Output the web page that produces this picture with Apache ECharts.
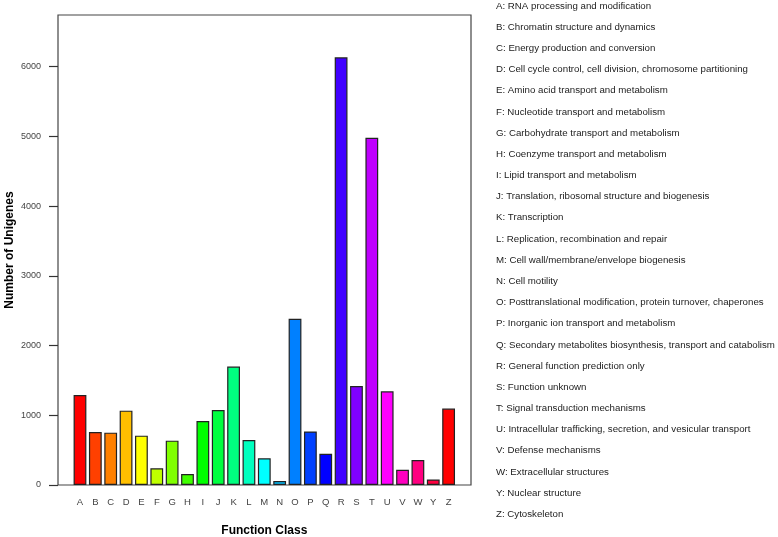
<!DOCTYPE html>
<html lang="en">
<head>
    <meta charset="UTF-8">
    <title>Function Class</title>
    <script src="https://cdn.jsdelivr.net/npm/echarts@6/dist/echarts.min.js"></script>
    <style>
        body { margin: 0; background: #fff; }
    </style>
</head>
<body>
    <div id="main" style="width: 778px;height:537px;"></div>
    <script type="text/javascript">
        // 分類字母
        var classes = ['A', 'B', 'C', 'D', 'E', 'F', 'G', 'H', 'I', 'J', 'K', 'L', 'M',
            'N', 'O', 'P', 'Q', 'R', 'S', 'T', 'U', 'V', 'W', 'Y', 'Z'];
        // 分類說明
        var classNames = [
            'RNA processing and modification',
            'Chromatin structure and dynamics',
            'Energy production and conversion',
            'Cell cycle control, cell division, chromosome partitioning',
            'Amino acid transport and metabolism',
            'Nucleotide transport and metabolism',
            'Carbohydrate transport and metabolism',
            'Coenzyme transport and metabolism',
            'Lipid transport and metabolism',
            'Translation, ribosomal structure and biogenesis',
            'Transcription',
            'Replication, recombination and repair',
            'Cell wall/membrane/envelope biogenesis',
            'Cell motility',
            'Posttranslational modification, protein turnover, chaperones',
            'Inorganic ion transport and metabolism',
            'Secondary metabolites biosynthesis, transport and catabolism',
            'General function prediction only',
            'Function unknown',
            'Signal transduction mechanisms',
            'Intracellular trafficking, secretion, and vesicular transport',
            'Defense mechanisms',
            'Extracellular structures',
            'Nuclear structure',
            'Cytoskeleton'
        ];
        // 每類 Unigene 數
        var unigeneCounts = [1290, 760, 751, 1066, 708, 239, 636, 158, 918, 1076, 1698, 646, 383,
            57, 2385, 768, 448, 6133, 1420, 4978, 1343, 217, 359, 79, 1096];
        // Y 軸刻度
        var yTicks = [0, 1000, 2000, 3000, 4000, 5000, 6000];
        // 柱子顏色 (rainbow)
        var barColors = ['#FF0000', '#FF4000', '#FF8000', '#FFBF00', '#FFFF00', '#BFFF00',
            '#80FF00', '#40FF00', '#00FF00', '#00FF40', '#00FF80', '#00FFBF', '#00FFFF',
            '#00BFFF', '#0080FF', '#0040FF', '#0000FF', '#4000FF', '#8000FF', '#BF00FF',
            '#FF00FF', '#FF00BF', '#FF0080', '#FF0040', '#FF0000'];

        var myChart = echarts.init(document.getElementById('main'));

        // 右側說明文字
        var legendTexts = classes.map(function (c, i) {
            return {
                type: 'text',
                x: 496,
                y: 6 + i * 21.18,
                style: {
                    text: c + ': ' + classNames[i],
                    fill: '#222',
                    font: '9.7px "Liberation Sans", Arial, sans-serif',
                    verticalAlign: 'middle'
                }
            };
        });

        var option = {
            animation: false,
            textStyle: { fontFamily: '"Liberation Sans", Arial, sans-serif' },
            grid: [
                // 畫柱子的區域
                { left: 72.3, width: 384, top: 15, height: 470, outerBoundsMode: 'none' },
                // 外框
                {
                    left: 58, width: 413, top: 15, height: 470, outerBoundsMode: 'none',
                    show: true, borderColor: '#444', borderWidth: 1.2
                }
            ],
            xAxis: [
                {
                    type: 'category',
                    gridIndex: 0,
                    data: classes,
                    axisLine: { show: false },
                    axisTick: { show: false },
                    axisLabel: { margin: 12, color: '#444', fontSize: 9.5 },
                    name: 'Function Class',
                    nameLocation: 'middle',
                    nameGap: 40,
                    nameTextStyle: { fontWeight: 'bold', fontSize: 12, color: '#000' }
                },
                { type: 'value', gridIndex: 1, show: false }
            ],
            yAxis: [
                {
                    type: 'value',
                    gridIndex: 0,
                    min: 0,
                    max: 6740,
                    offset: 14.3,
                    axisLine: { show: false },
                    axisTick: {
                        show: true, length: 9, customValues: yTicks,
                        lineStyle: { color: '#333', width: 1.2 }
                    },
                    axisLabel: {
                        margin: 17, color: '#444', fontSize: 9, customValues: yTicks,
                        formatter: function (v) { return String(v); }
                    },
                    splitLine: { show: false },
                    name: 'Number of Unigenes',
                    nameLocation: 'middle',
                    nameGap: 42,
                    nameTextStyle: { fontWeight: 'bold', fontSize: 12, color: '#000' }
                },
                { type: 'value', gridIndex: 1, show: false }
            ],
            series: [{
                type: 'bar',
                xAxisIndex: 0,
                yAxisIndex: 0,
                barCategoryGap: '16.7%',
                data: unigeneCounts.map(function (v, i) {
                    return { value: v, itemStyle: { color: barColors[i] } };
                }),
                itemStyle: { borderColor: '#222', borderWidth: 1.2 }
            }],
            graphic: legendTexts
        };

        myChart.setOption(option);
    </script>
</body>
</html>
